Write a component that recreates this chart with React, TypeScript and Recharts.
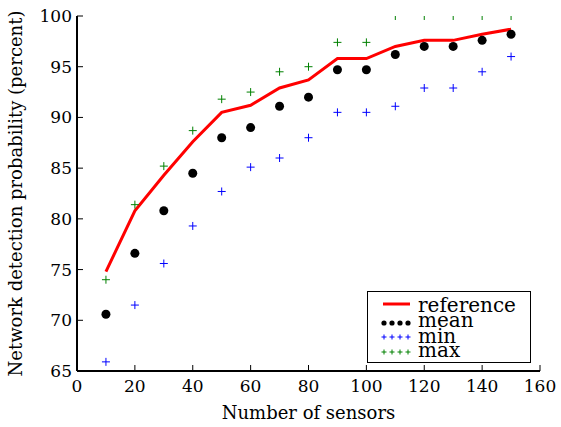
import React from 'react';
import * as Recharts from 'recharts';
import { ComposedChart, Line, Scatter, XAxis, YAxis, Legend } from 'recharts';

const sensorCounts = [10, 20, 30, 40, 50, 60, 70, 80, 90, 100, 110, 120, 130, 140, 150];
const referenceValues = [74.8, 80.8, 84.3, 87.6, 90.5, 91.2, 92.9, 93.7, 95.8, 95.8, 97.0, 97.6, 97.6, 98.2, 98.7];
const meanValues = [70.6, 76.6, 80.8, 84.5, 88.0, 89.0, 91.1, 92.0, 94.7, 94.7, 96.2, 97.0, 97.0, 97.6, 98.2];
const minValues = [65.9, 71.5, 75.6, 79.3, 82.7, 85.1, 86.0, 88.0, 90.5, 90.5, 91.1, 92.9, 92.9, 94.5, 96.0];
const maxValues = [74.0, 81.4, 85.2, 88.7, 91.8, 92.5, 94.5, 95.0, 97.4, 97.4, 100, 100, 100, 100, 100];
const xTicks = [0, 20, 40, 60, 80, 100, 120, 140, 160];
const yTicks = [65, 70, 75, 80, 85, 90, 95, 100];

const data = sensorCounts.map((x, i) => ({
  x,
  reference: referenceValues[i],
  mean: meanValues[i],
  min: minValues[i],
  max: maxValues[i],
}));

const FONT = 'DejaVu Serif';
const TICK_LEN = 6;
const usePlotAreaSafe: () => any =
  typeof (Recharts as any).usePlotArea === 'function' ? (Recharts as any).usePlotArea : () => null;

const BottomTick = (props: any) => {
  const { x, y, payload } = props;
  return (
    <g>
      <line x1={x} y1={y} x2={x} y2={y - TICK_LEN} stroke="#000" strokeWidth={1} />
      <text x={x} y={y + 21} textAnchor="middle" fontFamily={FONT} fontSize={17} fill="#000">
        {payload.value}
      </text>
    </g>
  );
};

const TopTick = (props: any) => {
  const { x, y } = props;
  return <line x1={x} y1={y} x2={x} y2={y + TICK_LEN} stroke="#000" strokeWidth={1} />;
};

const LeftTick = (props: any) => {
  const { x, y, payload } = props;
  return (
    <g>
      <line x1={x} y1={y} x2={x + TICK_LEN} y2={y} stroke="#000" strokeWidth={1} />
      <text x={x - 5} y={y + 6} textAnchor="end" fontFamily={FONT} fontSize={17} fill="#000">
        {payload.value}
      </text>
    </g>
  );
};

const RightTick = (props: any) => {
  const { x, y } = props;
  return <line x1={x} y1={y} x2={x - TICK_LEN} y2={y} stroke="#000" strokeWidth={1} />;
};

const DotShape = (props: any) => {
  const { cx, cy, color } = props;
  return <circle cx={cx} cy={cy} r={4.5} fill={color} />;
};

const PlusShape = (props: any) => {
  const { cx, cy, color } = props;
  const area = usePlotAreaSafe();
  const s = 4;
  let top = cy - s;
  let bottom = cy + s;
  let left = cx - s;
  let right = cx + s;
  let showH = true;
  if (area) {
    top = Math.max(top, area.y);
    bottom = Math.min(bottom, area.y + area.height);
    left = Math.max(left, area.x);
    right = Math.min(right, area.x + area.width);
    showH = cy >= area.y + 1 && cy <= area.y + area.height - 1;
  }
  return (
    <path
      d={`${showH ? `M${left},${cy}H${right}` : ''}M${cx},${top}V${bottom}`}
      stroke={color}
      strokeWidth={1}
      fill="none"
    />
  );
};

const plusPath = (cx: number, cy: number, s: number) => `M${cx - s},${cy}H${cx + s}M${cx},${cy - s}V${cy + s}`;

const LegendBox = () => {
  const mx = [17, 25, 33, 41];
  return (
    <svg width={164} height={72} style={{ display: 'block' }}>
      <rect x={0.5} y={0.5} width={163} height={71} fill="#fff" stroke="#000" strokeWidth={1} />
      <line x1={16} y1={13} x2={43} y2={13} stroke="#ff0000" strokeWidth={3} />
      {mx.map((x) => (
        <circle key={'d' + x} cx={x} cy={32} r={2.6} fill="#000" />
      ))}
      {mx.map((x) => (
        <path key={'a' + x} d={plusPath(x, 46, 2.5)} stroke="#0000ff" strokeWidth={1} fill="none" />
      ))}
      {mx.map((x) => (
        <path key={'b' + x} d={plusPath(x, 61, 2.5)} stroke="#008000" strokeWidth={1} fill="none" />
      ))}
      <text x={51} y={21} fontFamily={FONT} fontSize={20} fill="#000">reference</text>
      <text x={51} y={36} fontFamily={FONT} fontSize={20} fill="#000">mean</text>
      <text x={51} y={52} fontFamily={FONT} fontSize={20} fill="#000">min</text>
      <text x={51} y={66} fontFamily={FONT} fontSize={20} fill="#000">max</text>
    </svg>
  );
};

export default function App() {
  return (
    <div style={{ position: 'absolute', left: 0, top: 0, width: 561, height: 427, background: '#fff' }}>
      <ComposedChart
        width={561}
        height={427}
        data={data}
        margin={{ top: 16, right: 21, bottom: 0, left: 0 }}
      >
        <XAxis
          xAxisId="bottom"
          dataKey="x"
          type="number"
          domain={[0, 160]}
          ticks={xTicks}
          allowDataOverflow
          tickLine={false}
          tickSize={0}
          tickMargin={0}
          height={56}
          axisLine={{ stroke: '#000', strokeWidth: 2 }}
          tick={<BottomTick />}
          label={{ value: 'Number of sensors', position: 'insideBottom', offset: 8, fontFamily: FONT, fontSize: 18, fill: '#000' }}
        />
        <XAxis
          xAxisId="top"
          orientation="top"
          dataKey="x"
          type="number"
          domain={[0, 160]}
          ticks={xTicks}
          allowDataOverflow
          tickLine={false}
          tickSize={0}
          tickMargin={0}
          height={0}
          axisLine={{ stroke: '#000', strokeWidth: 2 }}
          tick={<TopTick />}
        />
        <YAxis
          yAxisId="left"
          type="number"
          domain={[65, 100]}
          ticks={yTicks}
          allowDataOverflow
          tickLine={false}
          tickSize={0}
          tickMargin={0}
          width={77}
          axisLine={{ stroke: '#000', strokeWidth: 2 }}
          tick={<LeftTick />}
          label={{
            value: 'Network detection probability (percent)',
            angle: -90,
            position: 'insideLeft',
            offset: 16,
            style: { textAnchor: 'middle' },
            fontFamily: FONT,
            fontSize: 18,
            fill: '#000',
          }}
        />
        <YAxis
          yAxisId="right"
          orientation="right"
          type="number"
          domain={[65, 100]}
          ticks={yTicks}
          allowDataOverflow
          tickLine={false}
          tickSize={0}
          tickMargin={0}
          width={0}
          axisLine={{ stroke: '#000', strokeWidth: 2 }}
          tick={<RightTick />}
        />
        <Line
          xAxisId="bottom"
          yAxisId="left"
          type="linear"
          dataKey="reference"
          stroke="#ff0000"
          strokeWidth={3}
          dot={false}
          isAnimationActive={false}
        />
        <Scatter xAxisId="bottom" yAxisId="left" dataKey="mean" shape={<DotShape color="#000" />} isAnimationActive={false} />
        <Scatter xAxisId="bottom" yAxisId="left" dataKey="min" shape={<PlusShape color="#0000ff" />} isAnimationActive={false} />
        <Scatter xAxisId="bottom" yAxisId="left" dataKey="max" shape={<PlusShape color="#008000" />} isAnimationActive={false} />
        <Legend
          layout="vertical"
          align="center"
          verticalAlign="middle"
          content={<LegendBox />}
          wrapperStyle={{ position: 'absolute', left: 367, top: 291, width: 164, height: 72 }}
        />
      </ComposedChart>
    </div>
  );
}
